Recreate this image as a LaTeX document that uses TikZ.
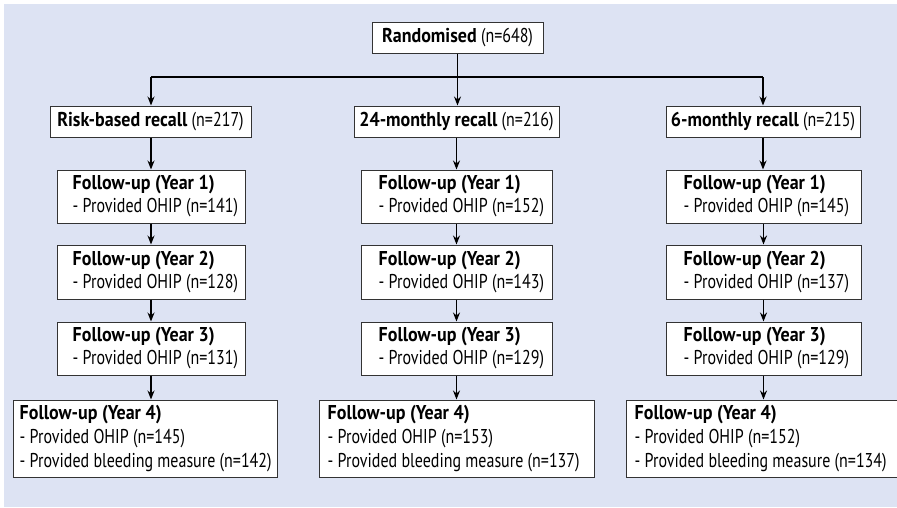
\documentclass[tikz,border=0pt]{standalone}
\usepackage{fontspec}
\setmainfont{PT Sans}[FakeStretch=0.80, BoldFeatures={FakeStretch=0.90}]
\usetikzlibrary{arrows.meta}
\definecolor{bgblue}{HTML}{DDE3F3}
\definecolor{boxline}{HTML}{333333}
\begin{document}
\begin{tikzpicture}[x=1pt,y=-1pt,
  boxnode/.style={draw=boxline, line width=1pt, fill=white, inner sep=0pt},
  topbox/.style={boxnode, minimum height=31pt, font=\fontsize{20}{23}\selectfont},
  txt/.style={inner sep=0pt, align=left, anchor=west, font=\fontsize{20}{23}\selectfont},
  txtfour/.style={txt, font=\fontsize{20}{24}\selectfont},
  conn/.style={line width=1.4pt, -{Stealth[length=9pt,width=7pt]}},
  plain/.style={line width=1.4pt},
]
\useasboundingbox (0,0) rectangle (897,507);
\fill[bgblue] (4,4) rectangle (897,507);

% top level
\node[topbox, minimum width=171pt] (rand) at (457.5,37.5) {\textbf{Randomised} (n=648)};
\node[topbox, minimum width=201pt] (risk) at (150.5,121.5) {\textbf{Risk-based recall} (n=217)};
\node[topbox, minimum width=205pt] (m24) at (456.5,121.5) {\textbf{24-monthly recall} (n=216)};
\node[topbox, minimum width=194pt] (m6) at (763,121.5) {\textbf{6-monthly recall} (n=215)};

% column 1
\node[boxnode, minimum width=188pt, minimum height=53pt] (a1) at (151,196.5) {};
\node[boxnode, minimum width=188pt, minimum height=54pt] (a2) at (151,272) {};
\node[boxnode, minimum width=188pt, minimum height=53pt] (a3) at (151,348.5) {};
\node[boxnode, minimum width=264pt, minimum height=77pt] (a4) at (145,438.5) {};
\node[txt] (a1t) at ([xshift=16pt]a1.west) {\textbf{Follow-up (Year 1)}\\- Provided OHIP (n=141)};
\node[txt] (a2t) at ([xshift=16pt]a2.west) {\textbf{Follow-up (Year 2)}\\- Provided OHIP (n=128)};
\node[txt] (a3t) at ([xshift=16pt]a3.west) {\textbf{Follow-up (Year 3)}\\- Provided OHIP (n=131)};
\node[txtfour] (a4t) at ([xshift=7pt]a4.west) {\textbf{Follow-up (Year 4)}\\- Provided OHIP (n=145)\\- Provided bleeding measure (n=142)};

% column 2
\node[boxnode, minimum width=191pt, minimum height=53pt] (b1) at (456.5,196.5) {};
\node[boxnode, minimum width=191pt, minimum height=54pt] (b2) at (456.5,272) {};
\node[boxnode, minimum width=191pt, minimum height=53pt] (b3) at (456.5,348.5) {};
\node[boxnode, minimum width=275pt, minimum height=77pt] (b4) at (456.5,438.5) {};
\node[txt] (b1t) at ([xshift=18pt]b1.west) {\textbf{Follow-up (Year 1)}\\- Provided OHIP (n=152)};
\node[txt] (b2t) at ([xshift=18pt]b2.west) {\textbf{Follow-up (Year 2)}\\- Provided OHIP (n=143)};
\node[txt] (b3t) at ([xshift=18pt]b3.west) {\textbf{Follow-up (Year 3)}\\- Provided OHIP (n=129)};
\node[txtfour] (b4t) at ([xshift=9pt]b4.west) {\textbf{Follow-up (Year 4)}\\- Provided OHIP (n=153)\\- Provided bleeding measure (n=137)};

% column 3
\node[boxnode, minimum width=195pt, minimum height=53pt] (c1) at (763.5,196.5) {};
\node[boxnode, minimum width=195pt, minimum height=54pt] (c2) at (763.5,272) {};
\node[boxnode, minimum width=195pt, minimum height=53pt] (c3) at (763.5,348.5) {};
\node[boxnode, minimum width=271pt, minimum height=77pt] (c4) at (761.5,438.5) {};
\node[txt] (c1t) at ([xshift=18pt]c1.west) {\textbf{Follow-up (Year 1)}\\- Provided OHIP (n=145)};
\node[txt] (c2t) at ([xshift=18pt]c2.west) {\textbf{Follow-up (Year 2)}\\- Provided OHIP (n=137)};
\node[txt] (c3t) at ([xshift=18pt]c3.west) {\textbf{Follow-up (Year 3)}\\- Provided OHIP (n=129)};
\node[txtfour] (c4t) at ([xshift=9pt]c4.west) {\textbf{Follow-up (Year 4)}\\- Provided OHIP (n=152)\\- Provided bleeding measure (n=134)};

% connectors from randomised
\coordinate (hl) at (151,77);
\coordinate (hr) at (763,77);
\draw[plain] (hl) -- (hr);
\draw[conn] (rand.south) -- (rand.south |- m24.north);
\draw[conn] (hl) -- (hl |- risk.north);
\draw[conn] (hr) -- (hr |- m6.north);

% column connectors
\draw[conn] (a1.north |- risk.south) -- (a1.north);
\draw[conn] (a1.south) -- (a2.north);
\draw[conn] (a2.south) -- (a3.north);
\draw[conn] (a3.south) -- (a3.south |- a4.north);
\draw[conn] (m24.south) -- (b1.north);
\draw[conn] (b1.south) -- (b2.north);
\draw[conn] (b2.south) -- (b3.north);
\draw[conn] (b3.south) -- (b4.north);
\draw[conn] (m6.south) -- (m6.south |- c1.north);
\draw[conn] (c1.south) -- (c2.north);
\draw[conn] (c2.south) -- (c3.north);
\draw[conn] (c3.south) -- (c3.south |- c4.north);
\end{tikzpicture}
\end{document}
